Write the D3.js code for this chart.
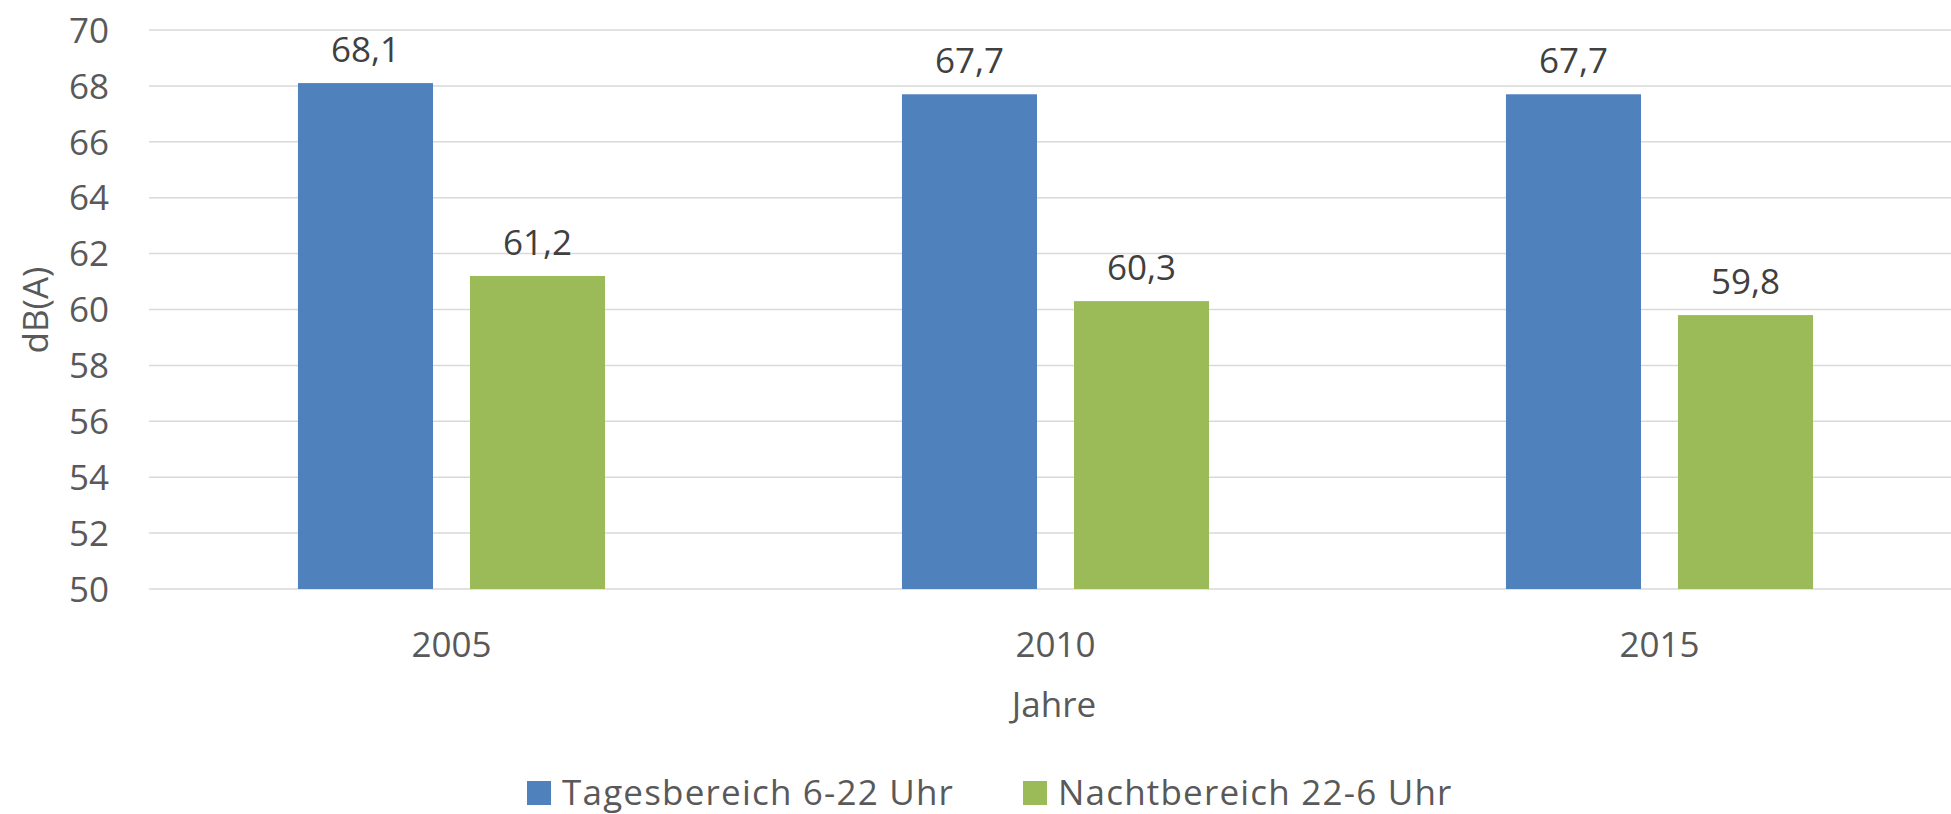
<!DOCTYPE html>
<html>
<head>
<meta charset="utf-8">
<script src="https://cdn.jsdelivr.net/npm/d3@7"></script>
<style>
  body { margin: 0; background: #fff; }
  svg { display: block; font-family: "Open Sans", sans-serif; }
</style>
</head>
<body>
<div id="chart-area"></div>
<script>
// data
var years = ["2005", "2010", "2015"];
var seriesNames = ["Tagesbereich 6-22 Uhr", "Nachtbereich 22-6 Uhr"];
var tagValues = [68.1, 67.7, 67.7];
var nachtValues = [61.2, 60.3, 59.8];
var yTicks = [50, 52, 54, 56, 58, 60, 62, 64, 66, 68, 70];

var colors = ["#4F81BD", "#9BBB59"];
var W = 1951, H = 814;

var svg = d3.select("#chart-area")
    .append("svg")
        .attr("width", W)
        .attr("height", H);

// X scale (groups)
var x = d3.scaleBand()
    .domain(years)
    .range([149.5, 1961.5])
    .padding(0);

// X scale (bars within group)
var x1 = d3.scaleBand()
    .domain(seriesNames)
    .range([0, x.bandwidth()])
    .paddingInner(0.215)
    .paddingOuter(0.863);

// Y scale
var y = d3.scaleLinear()
    .domain([50, 70])
    .range([589, 30]);

// gridlines
svg.append("g")
    .selectAll("line")
    .data(yTicks)
    .enter().append("line")
        .attr("x1", 149)
        .attr("x2", W)
        .attr("y1", function(d){ return y(d); })
        .attr("y2", function(d){ return y(d); })
        .attr("stroke", "#D9D9D9")
        .attr("stroke-width", 1.5);

// Y axis labels
var yAxisCall = d3.axisLeft(y)
    .tickValues(yTicks)
    .tickSize(0)
    .tickPadding(0);
var yAxis = svg.append("g")
    .attr("transform", "translate(109,0)")
    .call(yAxisCall);
yAxis.select(".domain").remove();
yAxis.selectAll("text")
    .attr("font-family", "Open Sans")
    .attr("font-size", "35px")
    .attr("fill", "#595959")
    .attr("dy", "0.35em");

// X axis labels
var xAxisCall = d3.axisBottom(x).tickSize(0).tickPadding(0);
var xAxis = svg.append("g")
    .call(xAxisCall);
xAxis.select(".domain").remove();
xAxis.selectAll("text")
    .attr("font-family", "Open Sans")
    .attr("font-size", "35px")
    .attr("fill", "#595959")
    .attr("y", 657)
    .attr("dy", 0);

// Bars
var rows = years.map(function(yr, i) {
    return [
        { year: yr, series: seriesNames[0], value: tagValues[i], color: colors[0] },
        { year: yr, series: seriesNames[1], value: nachtValues[i], color: colors[1] }
    ];
});
var flat = [].concat.apply([], rows);

svg.append("g")
    .selectAll("rect")
    .data(flat)
    .enter().append("rect")
        .attr("x", function(d){ return x(d.year) + x1(d.series); })
        .attr("width", x1.bandwidth())
        .attr("y", function(d){ return y(d.value); })
        .attr("height", function(d){ return y(50) - y(d.value); })
        .attr("fill", function(d){ return d.color; });

// Data labels
svg.append("g")
    .selectAll("text")
    .data(flat)
    .enter().append("text")
        .attr("x", function(d){ return x(d.year) + x1(d.series) + x1.bandwidth() / 2; })
        .attr("y", function(d){ return y(d.value) - 21; })
        .attr("text-anchor", "middle")
        .attr("font-size", "35px")
        .attr("fill", "#404040")
        .text(function(d){ return d3.format(".1f")(d.value).replace(".", ","); });

// Y label
svg.append("text")
    .attr("transform", "translate(48,310) rotate(-90)")
    .attr("text-anchor", "middle")
    .attr("font-size", "35px")
    .attr("fill", "#595959")
    .text("dB(A)");

// X label
svg.append("text")
    .attr("x", 1054)
    .attr("y", 717)
    .attr("text-anchor", "middle")
    .attr("font-size", "35px")
    .attr("fill", "#595959")
    .text("Jahre");

// Legend
var legendX = [527, 1023];
var legend = svg.append("g")
    .selectAll("g")
    .data(seriesNames)
    .enter().append("g")
        .attr("transform", function(d, i){ return "translate(" + legendX[i] + ",781)"; });
legend.append("rect")
    .attr("width", 24)
    .attr("height", 24)
    .attr("fill", function(d, i){ return colors[i]; });
legend.append("text")
    .attr("x", 35)
    .attr("y", 24)
    .attr("font-size", "35px")
    .attr("letter-spacing", "1.2px")
    .attr("fill", "#595959")
    .text(function(d){ return d; });
</script>
</body>
</html>
